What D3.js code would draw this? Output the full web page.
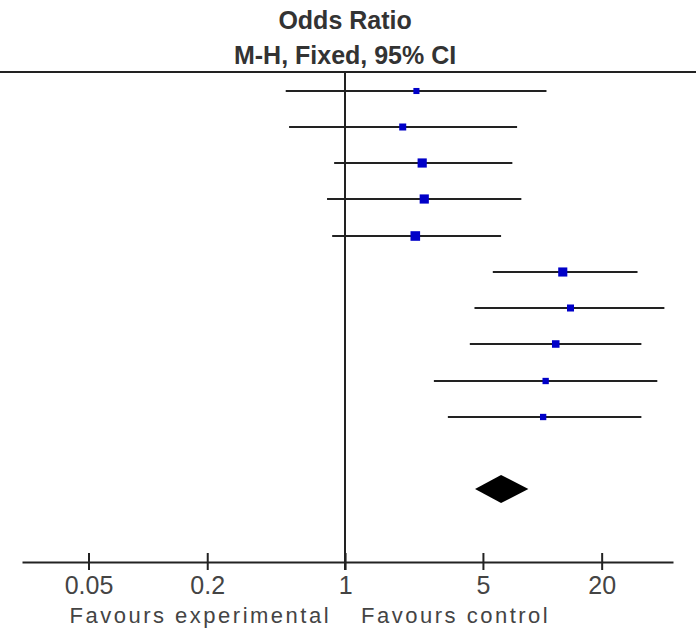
<!DOCTYPE html>
<html>
<head>
<meta charset="utf-8">
<script src="https://cdn.jsdelivr.net/npm/d3@7"></script>
<style>
  body { margin: 0; background: #fff; }
  text { font-family: "Liberation Sans", Arial, sans-serif; }
</style>
</head>
<body>
<script>
// study estimates (odds ratio with 95% CI)
var oddsRatio = [2.30, 1.96, 2.46, 2.52, 2.27, 12.7, 13.9, 11.7, 10.4, 10.1];
var ciLower = [0.50, 0.52, 0.88, 0.81, 0.86, 5.61, 4.53, 4.29, 2.82, 3.32];
var ciUpper = [10.5, 7.45, 7.05, 7.83, 6.18, 30.4, 41.6, 31.8, 38.3, 31.8];
var weights = [4.8, 6.4, 11.0, 11.0, 12.0, 10.8, 6.4, 7.4, 5.2, 5.2];
// pooled: lower, estimate, upper
var pooled = [4.56, 6.18, 8.50];
var tickValues = [0.05, 0.2, 1, 5, 20];
var titleLines = ['Odds Ratio', 'M-H, Fixed, 95% CI'];
var favourLabels = ['Favours experimental', 'Favours control'];

var width = 698, height = 630;

var svg = d3.select('body').append('svg')
  .attr('width', width)
  .attr('height', height);

var x = d3.scaleLog().domain([0.023, 46]).range([22, 673]);
// row slots: 10 studies, blank, pooled, blank, axis
var y = d3.scaleLinear().domain([0, 13]).range([90.7, 562]).interpolate(d3.interpolateRound);
var side = d3.scaleSqrt().domain([0, 12]).range([0, 9.6]);

var rows = oddsRatio.map(function(d, i) {
  return { or: d, lo: ciLower[i], hi: ciUpper[i], w: weights[i], i: i };
});

// header
svg.selectAll('text.title').data(titleLines)
  .enter().append('text')
  .attr('class', 'title')
  .attr('x', x(1))
  .attr('y', function(d, i) { return 28.5 + i * 35; })
  .attr('text-anchor', 'middle')
  .attr('font-size', 25)
  .attr('font-weight', 'bold')
  .attr('fill', '#333')
  .text(function(d) { return d; });

svg.append('line')
  .attr('x1', 0).attr('x2', 696)
  .attr('y1', 72).attr('y2', 72)
  .attr('stroke', '#222')
  .attr('stroke-width', 2);

// line of no effect
svg.append('line')
  .attr('x1', Math.round(x(1))).attr('x2', Math.round(x(1)))
  .attr('y1', 72).attr('y2', y(13) + 8)
  .attr('stroke', '#222')
  .attr('stroke-width', 2);

// confidence intervals
svg.selectAll('line.ci').data(rows)
  .enter().append('line')
  .attr('class', 'ci')
  .attr('x1', function(d) { return x(d.lo); })
  .attr('x2', function(d) { return x(d.hi); })
  .attr('y1', function(d) { return y(d.i); })
  .attr('y2', function(d) { return y(d.i); })
  .attr('stroke', '#222')
  .attr('stroke-width', 2);

// point estimates
svg.selectAll('rect.pt').data(rows)
  .enter().append('rect')
  .attr('class', 'pt')
  .attr('x', function(d) { return x(d.or) - side(d.w) / 2; })
  .attr('y', function(d) { return y(d.i) - side(d.w) / 2; })
  .attr('width', function(d) { return side(d.w); })
  .attr('height', function(d) { return side(d.w); })
  .attr('fill', '#0000c8');

// pooled diamond
var py = y(11);
svg.append('path')
  .attr('d', 'M' + x(pooled[0]) + ',' + py +
    'L' + x(pooled[1]) + ',' + (py - 14) +
    'L' + x(pooled[2]) + ',' + py +
    'L' + x(pooled[1]) + ',' + (py + 14) + 'Z')
  .attr('fill', '#000');

// axis
var axis = svg.append('g')
  .attr('transform', 'translate(0,' + y(13) + ')')
  .call(d3.axisBottom(x).tickValues(tickValues).tickFormat(function(d) { return d; }).tickSizeOuter(0));

axis.select('.domain').attr('stroke', '#222').attr('stroke-width', 2);
axis.selectAll('.tick line')
  .attr('y1', -9).attr('y2', 8)
  .attr('stroke', '#222')
  .attr('stroke-width', 2);
axis.selectAll('.tick text')
  .attr('y', 32).attr('dy', 0)
  .attr('font-size', 25)
  .attr('font-family', '"Liberation Sans", Arial, sans-serif')
  .attr('fill', '#444');

svg.selectAll('text.fav').data(favourLabels)
  .enter().append('text')
  .attr('class', 'fav')
  .attr('x', function(d, i) { return i === 0 ? x(1) - 14 : x(1) + 16; })
  .attr('y', 623)
  .attr('text-anchor', function(d, i) { return i === 0 ? 'end' : 'start'; })
  .attr('font-size', 22)
  .attr('letter-spacing', 2.5)
  .attr('fill', '#444')
  .text(function(d) { return d; });
</script>
</body>
</html>
